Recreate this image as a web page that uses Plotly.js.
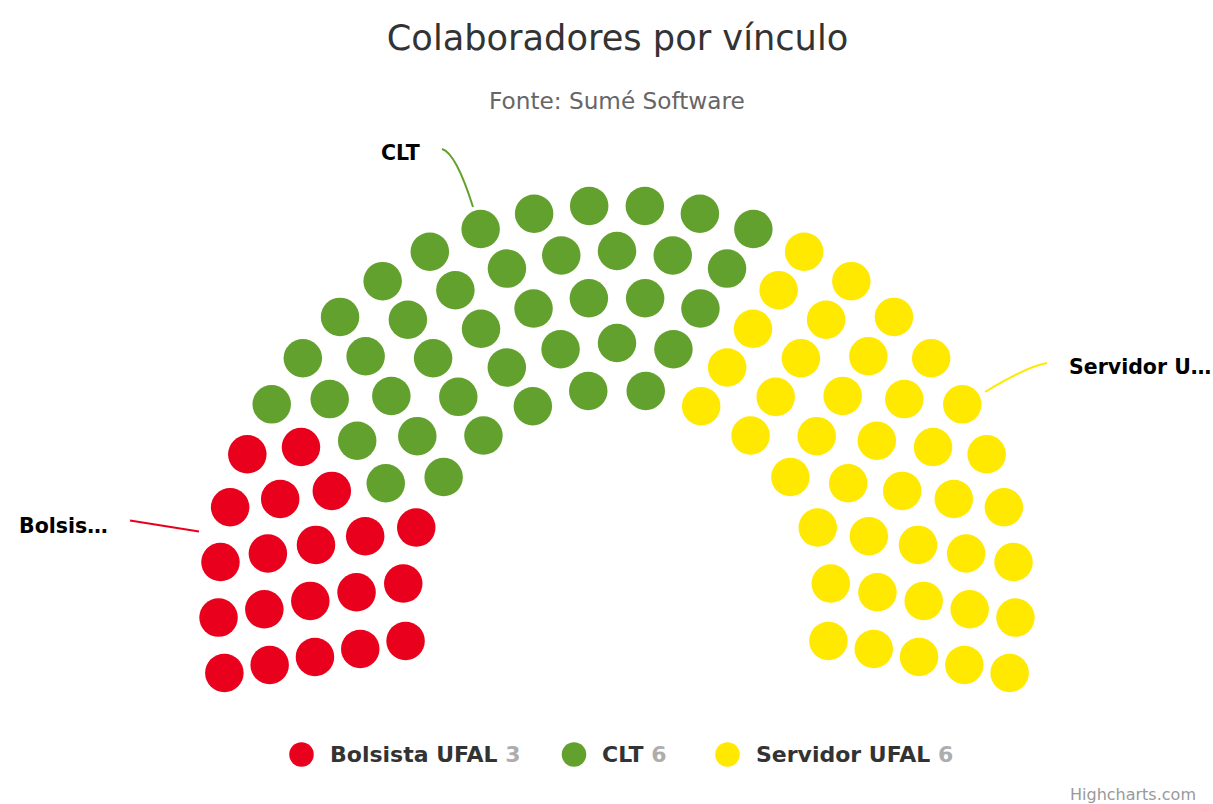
<!DOCTYPE html>
<html>
<head>
<meta charset="utf-8">
<script src="https://cdn.plot.ly/plotly-3.0.1.min.js"></script>
<style>
  html, body { margin: 0; padding: 0; background: #ffffff; }
  #chart { width: 1213px; height: 804px; }
</style>
</head>
<body>
<div id="chart"></div>
<script>
// Series shown in the parliament (item) chart
const seriesNames  = ['Bolsista UFAL', 'CLT', 'Servidor UFAL'];
const seriesValues = [3, 6, 6];
const seriesColors = ['#E8001C', '#63A12E', '#FFE900'];
const labelTexts   = ['Bolsis…', 'CLT', 'Servidor U…'];

// Layout of the semicircle (pixel space of the figure)
const W = 1213, H = 804;
const totalSeats = 100;
const rowSeats = [26, 23, 20, 17, 14];       // outer row first
const centerX = 617, centerY = 603.7;
const outerRadius = 398.7, rowPitch = 46;
const startAngle = -100, endAngle = 100;     // degrees from vertical
const dotSize = 38.5;
const FONT = 'DejaVu Sans, Verdana, sans-serif';

// Build every seat slot, row by row
const slots = [];
rowSeats.forEach((n, row) => {
  const r = outerRadius - row * rowPitch;
  for (let j = 0; j < n; j++) {
    const a = startAngle + j * (endAngle - startAngle) / (n - 1);
    const rad = a * Math.PI / 180;
    slots.push({ angle: a, row: row, x: centerX + r * Math.sin(rad), y: centerY - r * Math.cos(rad) });
  }
});
// Seats are handed out sweeping from left to right
slots.sort((p, q) => p.angle - q.angle || p.row - q.row);

const valueSum = seriesValues.reduce((s, v) => s + v, 0);
const seatCounts = seriesValues.map(v => Math.round(v / valueSum * totalSeats));

const traces = [];
let cursor = 0;
seriesNames.forEach((name, i) => {
  const mine = slots.slice(cursor, cursor + seatCounts[i]);
  cursor += seatCounts[i];
  traces.push({
    type: 'scatter',
    mode: 'markers',
    name: name,
    x: mine.map(p => p.x),
    y: mine.map(p => p.y),
    marker: { color: seriesColors[i], size: dotSize, line: { width: 0 } },
    hoverinfo: 'skip',
    showlegend: false
  });
});

// Data labels with their connectors
const labelFont = { family: FONT, size: 20.5, color: '#000000' };
const labelPlacement = [
  { x: 17,   y: 526, anchor: 'left',   path: 'M130,520.5 L199,531.5' },
  { x: 400,  y: 153, anchor: 'center', path: 'M442,149 Q456,153 473,207' },
  { x: 1067, y: 367, anchor: 'left',   path: 'M1047,363 Q1028,366 985,392' }
];

const annotations = labelPlacement.map((p, i) => ({
  x: p.x, y: p.y, xref: 'x', yref: 'y',
  xanchor: p.anchor, yanchor: 'middle',
  text: '<b>' + labelTexts[i] + '</b>',
  showarrow: false,
  font: labelFont
}));

const shapes = labelPlacement.map((p, i) => ({
  type: 'path', xref: 'x', yref: 'y', path: p.path,
  line: { color: seriesColors[i], width: 2 }
}));

// Legend row: colour dot followed by name and value
const legendY = 754.5, legendDot = 24.5;
const legendDotX = [301.5, 574, 727.5];
seriesNames.forEach((name, i) => {
  shapes.push({
    type: 'circle', xref: 'x', yref: 'y',
    x0: legendDotX[i] - legendDot / 2, x1: legendDotX[i] + legendDot / 2,
    y0: legendY - legendDot / 2, y1: legendY + legendDot / 2,
    fillcolor: seriesColors[i], line: { width: 0 }
  });
  annotations.push({
    x: legendDotX[i] + 26, y: legendY, xref: 'x', yref: 'y',
    xanchor: 'left', yanchor: 'middle', showarrow: false,
    text: '<b>' + name + ' <span style="color:#ADADAD">' + seriesValues[i] + '</span></b>',
    font: { family: FONT, size: 22, color: '#333333' }
  });
});

annotations.push({
  x: 617, y: 100, xref: 'x', yref: 'y', xanchor: 'center', yanchor: 'middle',
  text: 'Fonte: Sumé Software', showarrow: false,
  font: { family: FONT, size: 23.2, color: '#666666' }
});
annotations.push({
  x: 1068, y: 783, xref: 'x', yref: 'y', xanchor: 'left', yanchor: 'top',
  text: 'Highcharts.com', showarrow: false,
  font: { family: FONT, size: 16, color: '#999999' }
});

const layout = {
  width: W, height: H,
  margin: { l: 0, r: 0, t: 0, b: 0 },
  paper_bgcolor: '#ffffff', plot_bgcolor: '#ffffff',
  title: {
    text: 'Colaboradores por vínculo',
    x: 617.5 / W, xanchor: 'center', xref: 'paper',
    y: 1 - 38 / H, yanchor: 'middle', yref: 'container',
    font: { family: FONT, size: 35.2, color: '#333333' }
  },
  xaxis: { range: [0, W], visible: false, fixedrange: true },
  yaxis: { range: [H, 0], visible: false, fixedrange: true },
  showlegend: false,
  annotations: annotations,
  shapes: shapes
};

Plotly.newPlot('chart', traces, layout, { displayModeBar: false, staticPlot: true });
</script>
</body>
</html>
